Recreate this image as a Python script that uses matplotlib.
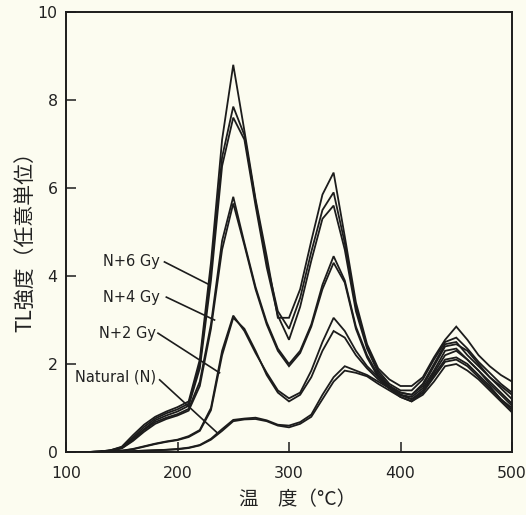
import matplotlib
matplotlib.use("Agg")
import matplotlib.pyplot as plt
import numpy as np

temps = [100, 110, 120, 130, 140, 150, 160, 170, 180, 190, 200, 210, 220, 230, 240,
         250, 260, 270, 280, 290, 300, 310, 320, 330, 340, 350, 360, 370, 380, 390,
         400, 410, 420, 430, 440, 450, 460, 470, 480, 490, 500]

n6_a = [0, 0, 0, 0.01, 0.04, 0.12, 0.38, 0.62, 0.8, 0.92, 1.02, 1.15, 2.1, 4.3, 7.1,
        8.8, 7.3, 5.75, 4.45, 3.05, 3.05, 3.7, 4.8, 5.85, 6.35, 4.9, 3.4, 2.45, 1.9, 1.65,
        1.5, 1.5, 1.7, 2.15, 2.55, 2.85, 2.55, 2.2, 1.95, 1.75, 1.6]
n6_b = [0, 0, 0, 0.01, 0.04, 0.11, 0.33, 0.57, 0.76, 0.88, 0.97, 1.1, 2.0, 4.1, 6.7,
        7.85, 7.2, 5.7, 4.3, 3.2, 2.8, 3.5, 4.55, 5.5, 5.9, 4.75, 3.3, 2.4, 1.85, 1.55,
        1.4, 1.4, 1.65, 2.1, 2.5, 2.6, 2.35, 2.05, 1.8, 1.55, 1.35]
n6_c = [0, 0, 0, 0.01, 0.03, 0.1, 0.3, 0.52, 0.72, 0.83, 0.92, 1.05, 1.9, 3.9, 6.5,
        7.6, 7.1, 5.6, 4.2, 3.1, 2.55, 3.3, 4.35, 5.3, 5.6, 4.6, 3.2, 2.35, 1.8, 1.5,
        1.35, 1.3, 1.55, 2.0, 2.45, 2.5, 2.2, 1.95, 1.7, 1.45, 1.2]
n4_a = [0, 0, 0, 0.01, 0.03, 0.09, 0.27, 0.5, 0.68, 0.78, 0.86, 0.98, 1.6, 2.9, 4.8,
        5.8, 4.75, 3.75, 2.95, 2.35, 2.0, 2.3, 2.9, 3.8, 4.45, 3.9, 2.85, 2.2, 1.75, 1.5,
        1.35, 1.3, 1.5, 1.95, 2.4, 2.45, 2.3, 2.0, 1.7, 1.5, 1.3]
n4_b = [0, 0, 0, 0.01, 0.03, 0.08, 0.25, 0.46, 0.64, 0.75, 0.83, 0.94, 1.5, 2.8, 4.6,
        5.65, 4.7, 3.7, 2.9, 2.3, 1.95, 2.25, 2.85, 3.7, 4.3, 3.85, 2.8, 2.15, 1.7, 1.45,
        1.3, 1.25, 1.45, 1.85, 2.3, 2.35, 2.1, 1.85, 1.6, 1.35, 1.1]
n2_a = [0, 0, 0, 0, 0.01, 0.03, 0.07, 0.13, 0.19, 0.24, 0.28, 0.36, 0.5, 1.0, 2.3,
        3.1, 2.75, 2.25, 1.8, 1.4, 1.22, 1.35, 1.85, 2.5, 3.05, 2.75, 2.3, 1.95, 1.7, 1.5,
        1.3, 1.2, 1.4, 1.8, 2.2, 2.3, 2.1, 1.85, 1.55, 1.3, 1.05]
n2_b = [0, 0, 0, 0, 0.01, 0.03, 0.06, 0.12, 0.18, 0.23, 0.27, 0.34, 0.48, 0.95, 2.2,
        3.05, 2.8, 2.3, 1.75, 1.35, 1.15, 1.3, 1.7, 2.3, 2.75, 2.6, 2.2, 1.9, 1.65, 1.45,
        1.25, 1.15, 1.35, 1.75, 2.1, 2.15, 2.0, 1.75, 1.5, 1.2, 0.95]
nat_a = [0, 0, 0, 0, 0, 0.01, 0.02, 0.03, 0.04, 0.05, 0.07, 0.1, 0.16, 0.3, 0.52,
         0.73, 0.76, 0.78, 0.72, 0.62, 0.6, 0.68, 0.85, 1.3, 1.7, 1.95, 1.85, 1.75, 1.6, 1.45,
         1.3, 1.2, 1.35, 1.7, 2.05, 2.1, 1.95, 1.7, 1.45, 1.2, 1.0]
nat_b = [0, 0, 0, 0, 0, 0.01, 0.02, 0.03, 0.04, 0.05, 0.06, 0.09, 0.15, 0.28, 0.48,
         0.7, 0.74, 0.75, 0.7, 0.6, 0.56, 0.64, 0.8, 1.2, 1.6, 1.85, 1.8, 1.72, 1.55, 1.4,
         1.25, 1.15, 1.3, 1.6, 1.95, 2.0, 1.85, 1.65, 1.4, 1.15, 0.9]

series = [n6_a, n6_b, n6_c, n4_a, n4_b, n2_a, n2_b, nat_a, nat_b]

labels = ["N+6 Gy", "N+4 Gy", "N+2 Gy", "Natural (N)"]
label_xy = [(184, 4.32), (184, 3.52), (181, 2.7), (181, 1.7)]
arrow_end = [(228.7, 3.8), (233.2, 3.0), (237.7, 1.8), (235.9, 0.43)]
arrow_start = [(188.3, 4.32), (190.0, 3.52), (182.5, 2.7), (184.0, 1.64)]

x_ticks = [100, 200, 300, 400, 500]
y_ticks = [0, 2, 4, 6, 8, 10]

bg = "#fcfcf0"
ink = "#1c1c1c"

fig = plt.figure(figsize=(5.26, 5.15), dpi=100, facecolor=bg)
ax = fig.add_axes([66 / 526, 1 - 452 / 515, (512 - 66) / 526, (452 - 12) / 515])
ax.set_facecolor(bg)

for s in series:
    ax.plot(temps, s, color=ink, lw=1.3, solid_joinstyle="miter")

for lab, (tx, ty), (sx, sy), (ex, ey) in zip(labels, label_xy, arrow_start, arrow_end):
    ax.text(tx, ty, lab, ha="right", va="center", fontsize=10.5, color="#222222",
            family=["DejaVu Sans"])
    ax.plot([sx, ex], [sy, ey], color=ink, lw=1.2)

ax.set_xlim(100, 500)
ax.set_ylim(0, 10)
ax.set_xticks(x_ticks)
ax.set_yticks(y_ticks)
ax.tick_params(direction="in", length=7, width=1.1, colors=ink, labelsize=11.3,
               labelcolor="#222222")
ax.tick_params(axis="x", pad=10)
ax.tick_params(axis="y", pad=6)
for sp in ax.spines.values():
    sp.set_linewidth(1.4)
    sp.set_color(ink)

cjk = ["Noto Sans CJK JP", "DejaVu Sans"]
fig.text(298 / 526, 1 - 500 / 515, "温　度（°C）", ha="center", va="center",
         fontsize=14, family=cjk, color="#222222")
fig.text(26 / 526, 1 - 237 / 515, "TL強度（任意単位）", ha="center", va="center",
         rotation=90, fontsize=15, family=cjk, color="#222222")

fig.savefig("out.png", dpi=100, facecolor=bg)
